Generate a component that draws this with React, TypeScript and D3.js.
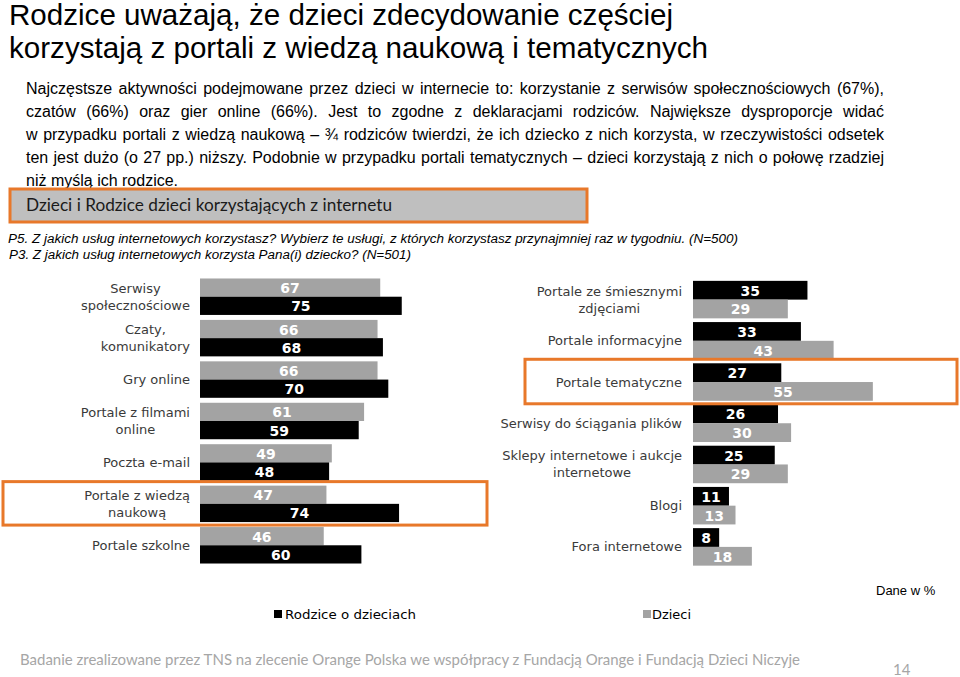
import React from "react";
import * as d3 from "d3";

const W = 960;
const H = 677;

const titleLines = [
  "Rodzice uważają, że dzieci zdecydowanie częściej",
  "korzystają z portali z wiedzą naukową i tematycznych",
];

const paragraphLines = [
  "Najczęstsze aktywności podejmowane przez dzieci w internecie to: korzystanie z serwisów społecznościowych (67%),",
  "czatów (66%) oraz gier online (66%). Jest to zgodne z deklaracjami rodziców. Największe dysproporcje widać",
  "w przypadku portali z wiedzą naukową – ¾ rodziców twierdzi, że ich dziecko z nich korzysta, w rzeczywistości odsetek",
  "ten jest dużo (o 27 pp.) niższy. Podobnie w przypadku portali tematycznych – dzieci korzystają z nich o połowę rzadziej",
  "niż myślą ich rodzice.",
];

const boxTitle = "Dzieci i Rodzice dzieci korzystających z internetu";

const questionLines = [
  "P5. Z jakich usług internetowych korzystasz? Wybierz te usługi, z których korzystasz przynajmniej raz w tygodniu. (N=500)",
  "P3. Z jakich usług internetowych korzysta Pana(i) dziecko? (N=501)",
];

const leftCategories = [
  "Serwisy\nspołecznościowe",
  "Czaty,\nkomunikatory",
  "Gry online",
  "Portale z filmami\nonline",
  "Poczta e-mail",
  "Portale z wiedzą\nnaukową",
  "Portale szkolne",
];
const leftTopValues = [67, 66, 66, 61, 49, 47, 46]; // gray bars
const leftBottomValues = [75, 68, 70, 59, 48, 74, 60]; // black bars

const rightCategories = [
  "Portale ze śmiesznymi\nzdjęciami",
  "Portale informacyjne",
  "Portale tematyczne",
  "Serwisy do ściągania plików",
  "Sklepy internetowe i aukcje\ninternetowe",
  "Blogi",
  "Fora internetowe",
];
const rightTopValues = [35, 33, 27, 26, 25, 11, 8]; // black bars
const rightBottomValues = [29, 43, 55, 30, 29, 13, 18]; // gray bars

const highlightLeft = "Portale z wiedzą\nnaukową";
const highlightRight = "Portale tematyczne";

const legendItems = ["Rodzice o dzieciach", "Dzieci"];
const unitNote = "Dane w %";
const footerText =
  "Badanie zrealizowane przez TNS na zlecenie Orange Polska we współpracy z Fundacją Orange i Fundacją Dzieci Niczyje";
const pageNumber = "14";

const BLACK = "#000000";
const GRAY = "#A3A3A3";
const ORANGE = "#E8782A";
const LABEL_FONT = "'DejaVu Sans', Verdana, sans-serif";
const SANS = "'Liberation Sans', Arial, Helvetica, sans-serif";

let _ctx: CanvasRenderingContext2D | null = null;
function measure(text: string, font: string): number {
  if (!_ctx) {
    const c = document.createElement("canvas");
    _ctx = c.getContext("2d");
  }
  if (!_ctx) return text.length * 7;
  _ctx.font = font;
  return _ctx.measureText(text).width;
}

type ChartProps = {
  categories: string[];
  topValues: number[];
  bottomValues: number[];
  topColor: string;
  bottomColor: string;
  x0: number;
  pxPerUnit: number;
  yRange: [number, number];
  paddingInner: number;
  paddingOuter: number;
  labelRight: number;
  highlight: string;
  highlightX: [number, number];
};

function BarChart(p: ChartProps) {
  const x = d3.scaleLinear().domain([0, 100]).range([p.x0, p.x0 + 100 * p.pxPerUnit]);
  const y = d3
    .scaleBand<string>()
    .domain(p.categories)
    .range(p.yRange)
    .paddingInner(p.paddingInner)
    .paddingOuter(p.paddingOuter);
  const inner = d3.scaleBand<string>().domain(["top", "bottom"]).range([0, y.bandwidth()]).padding(0);
  const lineH = 17;
  const labelFontCss = `13px ${LABEL_FONT}`;
  const hy = y(p.highlight) ?? 0;

  return (
    <g>
      {p.categories.map((cat, i) => {
        const gy = y(cat) ?? 0;
        const lines = cat.split("\n");
        const widths = lines.map((l) => measure(l, labelFontCss));
        const maxW = Math.max(...widths);
        const cx = p.labelRight - maxW / 2;
        const cy = gy + y.bandwidth() / 2;
        const series = [
          { key: "top", v: p.topValues[i], color: p.topColor },
          { key: "bottom", v: p.bottomValues[i], color: p.bottomColor },
        ];
        return (
          <g key={cat}>
            {lines.map((l, j) => (
              <text
                key={j}
                x={lines.length > 1 ? cx : p.labelRight}
                y={cy + (j - (lines.length - 1) / 2) * lineH}
                textAnchor={lines.length > 1 ? "middle" : "end"}
                dominantBaseline="central"
                fontFamily={LABEL_FONT}
                fontSize={13}
                fill="#3a3a3a"
              >
                {l}
              </text>
            ))}
            {series.map((s) => {
              const by = gy + (inner(s.key) ?? 0);
              const bw = x(s.v) - x(0);
              return (
                <g key={s.key}>
                  <rect x={x(0)} y={by} width={bw} height={inner.bandwidth()} fill={s.color} />
                  <text
                    x={x(0) + bw / 2}
                    y={by + inner.bandwidth() / 2 + 0.5}
                    textAnchor="middle"
                    dominantBaseline="central"
                    fontFamily={LABEL_FONT}
                    fontWeight="bold"
                    fontSize={14}
                    fill="#ffffff"
                  >
                    {s.v}
                  </text>
                </g>
              );
            })}
          </g>
        );
      })}
      <rect
        x={p.highlightX[0]}
        y={hy - 4}
        width={p.highlightX[1] - p.highlightX[0]}
        height={y.bandwidth() + 7}
        fill="none"
        stroke={ORANGE}
        strokeWidth={3}
      />
    </g>
  );
}

function JustifiedLine({ text, x, y, width, justify, font, size }: any) {
  const natural = measure(text, `${size}px ${font}`);
  const spaces = (text.match(/ /g) || []).length;
  if (!justify || spaces === 0) {
    return (
      <text x={x} y={y} fontFamily={font} fontSize={size} fill="#000">
        {text}
      </text>
    );
  }
  const ws = (width - natural) / spaces;
  if (ws >= -1) {
    return (
      <text x={x} y={y} fontFamily={font} fontSize={size} fill="#000" style={{ wordSpacing: `${ws}px` }}>
        {text}
      </text>
    );
  }
  return (
    <text x={x} y={y} fontFamily={font} fontSize={size} fill="#000" textLength={width} lengthAdjust="spacingAndGlyphs">
      {text}
    </text>
  );
}

export default function App() {
  return (
    <svg
      width={W}
      height={H}
      viewBox={`0 0 ${W} ${H}`}
      style={{ position: "absolute", left: 0, top: 0, display: "block", background: "#fff" }}
    >
      {/* Title */}
      <text x={9} y={25} fontFamily={SANS} fontSize={29} fill="#000" textLength={664} lengthAdjust="spacingAndGlyphs">
        {titleLines[0]}
      </text>
      <text x={9} y={58} fontFamily={SANS} fontSize={29} fill="#000" textLength={699} lengthAdjust="spacingAndGlyphs">
        {titleLines[1]}
      </text>

      {/* Paragraph */}
      {paragraphLines.map((l, i) => (
        <JustifiedLine
          key={i}
          text={l}
          x={26}
          y={94 + i * 23}
          width={858}
          justify={i < paragraphLines.length - 1}
          font={SANS}
          size={16}
        />
      ))}

      {/* Section box */}
      <rect x={10} y={189} width={577} height={33} fill="#BFBFBF" stroke={ORANGE} strokeWidth={3} />
      <text
        x={26}
        y={211}
        fontFamily="Lato, 'Open Sans', sans-serif"
        fontSize={18}
        fill="#1a1a1a"
        textLength={366}
        lengthAdjust="spacingAndGlyphs"
      >
        {boxTitle}
      </text>

      {/* Questions */}
      <text x={8} y={243} fontFamily={SANS} fontStyle="italic" fontSize={12.5} fill="#000" textLength={730} lengthAdjust="spacingAndGlyphs">
        {questionLines[0]}
      </text>
      <text x={9} y={259} fontFamily={SANS} fontStyle="italic" fontSize={12.5} fill="#000" textLength={402} lengthAdjust="spacingAndGlyphs">
        {questionLines[1]}
      </text>

      {/* Left chart */}
      <BarChart
        categories={leftCategories}
        topValues={leftTopValues}
        bottomValues={leftBottomValues}
        topColor={GRAY}
        bottomColor={BLACK}
        x0={200}
        pxPerUnit={2.69}
        yRange={[276, 566]}
        paddingInner={0.12}
        paddingOuter={0.06}
        labelRight={190}
        highlight={highlightLeft}
        highlightX={[3, 487]}
      />

      {/* Right chart */}
      <BarChart
        categories={rightCategories}
        topValues={rightTopValues}
        bottomValues={rightBottomValues}
        topColor={BLACK}
        bottomColor={GRAY}
        x0={693}
        pxPerUnit={3.27}
        yRange={[279, 567.5]}
        paddingInner={0.09}
        paddingOuter={0.045}
        labelRight={682}
        highlight={highlightRight}
        highlightX={[525, 957]}
      />

      {/* Legend */}
      <rect x={274} y={610} width={8} height={8} fill={BLACK} />
      <text x={285} y={619} fontFamily={LABEL_FONT} fontSize={13} fill="#000" textLength={131} lengthAdjust="spacingAndGlyphs">
        {legendItems[0]}
      </text>
      <rect x={643} y={610} width={8} height={8} fill={GRAY} />
      <text x={652} y={619} fontFamily={LABEL_FONT} fontSize={13} fill="#000" textLength={39} lengthAdjust="spacingAndGlyphs">
        {legendItems[1]}
      </text>

      <text x={876} y={595} fontFamily={SANS} fontSize={13} fill="#000">
        {unitNote}
      </text>

      {/* Footer */}
      <text
        x={20}
        y={665}
        fontFamily="Lato, 'Open Sans', sans-serif"
        fontSize={15}
        fill="#A6A6A6"
        textLength={780}
        lengthAdjust="spacingAndGlyphs"
      >
        {footerText}
      </text>
      <text x={893} y={675} fontFamily="Lato, 'Open Sans', sans-serif" fontSize={15} fill="#A6A6A6">
        {pageNumber}
      </text>
    </svg>
  );
}
